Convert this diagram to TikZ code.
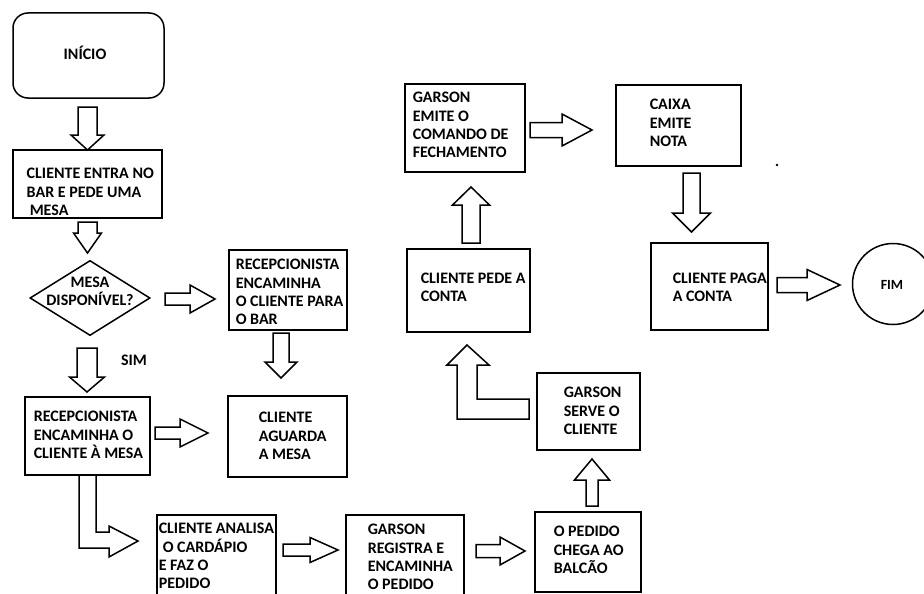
\documentclass[tikz,border=0pt]{standalone}
\usepackage{fontspec}
\setmainfont{Carlito}
\newcommand\ArrRight[6]{\draw[barrow] ({#1},{#3-#4}) -- ({#2-#6},{#3-#4}) -- ({#2-#6},{#3-#5}) -- ({#2},{#3}) -- ({#2-#6},{#3+#5}) -- ({#2-#6},{#3+#4}) -- ({#1},{#3+#4}) -- cycle;}
\newcommand\ArrDown[6]{\draw[barrow] ({#1-#4},{#2}) -- ({#1-#4},{#3-#6}) -- ({#1-#5},{#3-#6}) -- ({#1},{#3}) -- ({#1+#5},{#3-#6}) -- ({#1+#4},{#3-#6}) -- ({#1+#4},{#2}) -- cycle;}
\newcommand\ArrUp[6]{\draw[barrow] ({#1-#4},{#2}) -- ({#1-#4},{#3+#6}) -- ({#1-#5},{#3+#6}) -- ({#1},{#3}) -- ({#1+#5},{#3+#6}) -- ({#1+#4},{#3+#6}) -- ({#1+#4},{#2}) -- cycle;}
\begin{document}
\begin{tikzpicture}[x=1pt,y=-1pt,line width=1.5pt,
  box/.style={draw, rectangle, inner sep=0pt},
  txt/.style={font=\bfseries\fontsize{16}{18.3}\selectfont, align=left, inner sep=0pt, anchor=west},
  barrow/.style={draw, fill=white, line join=miter}]
\clip (0,0) rectangle (924,594);
\fill[white] (0,0) rectangle (924,594);
% arrows
\ArrDown{87.5}{107}{150}{9.5}{16.5}{15}
\ArrDown{87.5}{222}{253}{9.5}{14}{20}
\ArrRight{165}{215}{299}{6}{14}{25}
\ArrDown{281}{333}{378}{8}{16}{16}
\ArrDown{87}{348}{392}{10}{17.5}{15}
\ArrRight{155}{208}{433}{6}{14}{28}
\filldraw[barrow] (96,475) -- (96,532) -- (109,532) -- (109,526) -- (138,541) -- (109,557) -- (109,548) -- (79,548) -- (79,475);
\ArrRight{283}{338}{550}{6}{12.5}{28}
\ArrRight{476}{525}{551}{6.5}{14}{25}
\ArrUp{592}{506}{459}{6}{17.5}{21}
\draw[barrow] (529,399) -- (477,399) -- (477,365) -- (489,365) -- (467,345) -- (447,365) -- (457,365) -- (457,419) -- (529,419) -- cycle;
\ArrUp{471}{243}{187}{9}{18.5}{18}
\ArrRight{530}{592}{130}{7.5}{16}{30}
\ArrDown{691.5}{173}{232}{8.5}{19}{19}
\ArrRight{777}{840}{285}{7.5}{15.5}{33}
% boxes
\node[box, rounded corners=15pt, minimum width=151pt, minimum height=85pt] (inicio) at (88.5,55.5) {};
\node[box, minimum width=149pt, minimum height=68pt] (b1) at (87.5,184) {};
\node[minimum width=118pt, minimum height=73pt, inner sep=0pt] (dia) at (90,298) {};
\draw (dia.west) -- (dia.north) -- (dia.east) -- (dia.south) -- cycle;
\node[box, minimum width=118pt, minimum height=80pt] (rb) at (288,290) {};
\node[box, minimum width=125pt, minimum height=78pt] (rm) at (87.5,436) {};
\node[box, minimum width=119pt, minimum height=81pt] (ca) at (287.5,436.5) {};
\node[box, minimum width=119pt, minimum height=105pt] (cc) at (216.5,567.5) {};
\node[box, minimum width=118pt, minimum height=105pt] (gr) at (405,567.5) {};
\node[box, minimum width=106pt, minimum height=80pt] (pb) at (588,552) {};
\node[box, minimum width=103pt, minimum height=77pt] (gs) at (588.5,411.5) {};
\node[box, minimum width=123pt, minimum height=83pt] (pc) at (468.5,290.5) {};
\node[box, minimum width=120pt, minimum height=88pt] (ge) at (465,128) {};
\node[box, minimum width=125pt, minimum height=81pt] (cx) at (678.5,125.5) {};
\node[box, minimum width=117pt, minimum height=87pt] (cp) at (709.5,286.5) {};
\node[draw, circle, minimum size=81pt, inner sep=0pt] (fim) at (893,284) {};
\fill (777,165) circle (1.4pt);
% texts
\node[txt, anchor=center] (tinicio) at (85,53) {INÍCIO};
\node[txt] (tb1) at (26,192) {CLIENTE ENTRA NO\\BAR E PEDE UMA\\\hspace{3pt}MESA};
\node[txt, anchor=center, align=center] (tdia) at (90,291) {MESA\\DISPONÍVEL?};
\node[txt] (trb) at (235,292) {RECEPCIONISTA\\ENCAMINHA\\O CLIENTE PARA\\O BAR};
\node[txt, anchor=center] (tsim) at (134,360) {SIM};
\node[txt] (trm) at (33,435) {RECEPCIONISTA\\ENCAMINHA O\\CLIENTE À MESA};
\node[txt] (tca) at (258,436) {CLIENTE\\AGUARDA\\A MESA};
\node[txt] (tcc) at (158,556) {CLIENTE ANALISA\\\hspace{4pt}O CARDÁPIO\\E FAZ O\\PEDIDO};
\node[txt] (tgr) at (367,557) {GARSON\\REGISTRA E\\ENCAMINHA\\O PEDIDO};
\node[txt] (tpb) at (553,550) {O PEDIDO\\CHEGA AO\\BALCÃO};
\node[txt] (tgs) at (563,411) {GARSON\\SERVE O\\CLIENTE};
\node[txt] (tpc) at (420,287) {CLIENTE PEDE A\\CONTA};
\node[txt] (tge) at (412,125) {GARSON\\EMITE O\\COMANDO DE\\FECHAMENTO};
\node[txt] (tcx) at (649,123) {CAIXA\\EMITE\\NOTA};
\node[txt] (tcp) at (672,287) {CLIENTE PAGA\\A CONTA};
\node[txt, anchor=center, font=\bfseries\fontsize{14}{16}\selectfont] (tfim) at (892,285) {FIM};
\end{tikzpicture}
\end{document}
